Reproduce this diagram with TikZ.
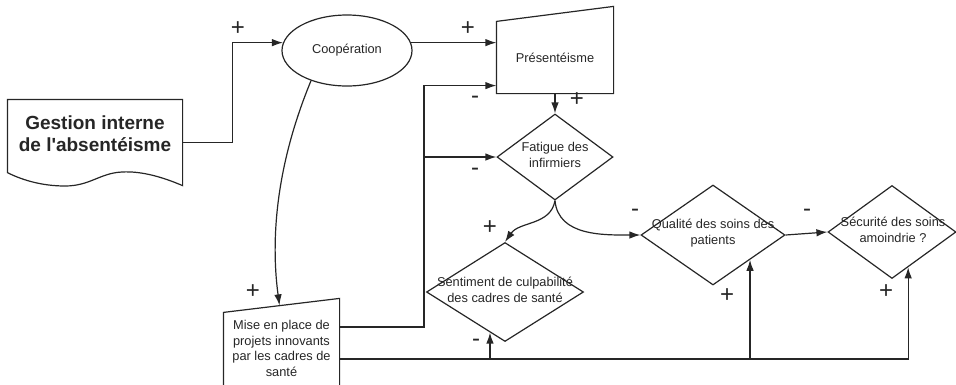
\documentclass[tikz,border=0pt]{standalone}
\usepackage{fontspec}
\setmainfont{Liberation Sans}[Ligatures=TeXOff]
\usetikzlibrary{arrows.meta,shapes.geometric,calc}

\tikzset{
  lbl/.style={font=\fontsize{12.8}{15.5}\selectfont, align=center, inner sep=0pt},
  sgn/.style={font=\fontsize{24}{24}\selectfont, inner sep=0pt},
  diam/.style 2 args={diamond, draw, inner sep=0pt, minimum width=#1, minimum height=#2},
  holder/.style 2 args={inner sep=0pt, minimum width=#1, minimum height=#2},
}

\begin{document}
\begin{tikzpicture}[x=1pt, y=-1pt, color=black!85, line width=1.2pt, >={Latex[length=11pt,width=7.5pt]}]
    \useasboundingbox (0,0) rectangle (956,384);

    % boxes
    \node[holder={174pt}{85pt}] (gestion) at (95,142.5) {};
    \draw (gestion.north west) -- (gestion.north east) -- (gestion.south east)
        .. controls (160,176) and (140,171) .. (122,172)
        .. controls (100,173) and (90,186) .. (65,186)
        .. controls (40,186) and (20,179) .. ([yshift=13pt]gestion.south west) -- cycle;
    \node[lbl, font=\fontsize{19}{22}\selectfont\bfseries] (gestiontxt) at (95,133.5) {Gestion interne\\de l'absentéisme};

    \node[ellipse, draw, lbl, minimum width=130pt, minimum height=71pt] (coop) at (347,50.5) {Coopération};

    \node[lbl, holder={116pt}{71pt}] (pres) at (555,57.5) {Présentéisme};
    \draw (pres.south west) -- (pres.north west) -- ([yshift=15pt]pres.north east) -- (pres.south east) -- cycle;

    \node[lbl, holder={115pt}{71pt}] (mise) at (281.5,348.5) {Mise en place de\\projets innovants\\par les cadres de\\santé};
    \draw ([yshift=-6pt]mise.south west) -- (mise.north west) -- ([yshift=14pt]mise.north east) -- ([yshift=-6pt]mise.south east);

    \node[diam={116pt}{86pt}] (fatigue) at (555,157) {};
    \node[lbl] (fatiguetxt) at (555,155) {Fatigue des\\infirmiers};

    \node[diam={157pt}{99pt}] (senti) at (505,292) {};
    \node[lbl] (sentitxt) at (505,290) {Sentiment de culpabilité\\des cadres de santé};

    \node[diam={144pt}{100pt}] (qual) at (713,235) {};
    \node[lbl] (qualtxt) at (713,233) {Qualité des soins des\\patients};

    \node[diam={128pt}{93pt}] (secu) at (892,232) {};
    \node[lbl] (secutxt) at (893,230) {Sécurité des soins\\amoindrie ?};

    % connectors
    \draw[->] (gestion.east) -- ++(50,0) |- (coop.173);
    \draw[->] (coop.7) -- (coop.7 -| pres.west);
    \draw[->] (coop.220) .. controls (272,175) and (272,250) .. ([xshift=-2pt,yshift=7pt]mise.north);

    \coordinate (jA) at (424,157);
    \draw ([yshift=21.5pt]mise.east) -| (jA);
    \draw[->] (jA) |- ([yshift=8pt]pres.south west);
    \draw[->] (jA) -- (fatigue.west);
    \draw[->] (pres.south) -- (fatigue.north);

    \draw[->] (fatigue.south) to[out=-100, in=55] (senti.north);
    \draw[->] (fatigue.south) to[out=-85, in=180] (qual.west);
    \draw[->] (qual.east) -- (secu.west);

    \coordinate (bus) at ([yshift=-10.5pt]mise.east);
    \coordinate (cin) at ($(senti.south)!0.19!(senti.west)$);
    \coordinate (qin) at ($(qual.south)!0.51!(qual.east)$);
    \coordinate (sin) at ($(secu.south)!0.25!(secu.east)$);
    \draw[->] (bus) -| (sin);
    \draw[->] (bus -| cin) -- (cin);
    \draw[->] (bus -| qin) -- (qin);

    % signs
    \node[sgn] (p1) at (238,29) {+};
    \node[sgn] (p2) at (468,29) {+};
    \node[sgn] (m1) at (475,100) {-};
    \node[sgn] (p3) at (577,100) {+};
    \node[sgn] (m2) at (475,172) {-};
    \node[sgn] (p4) at (490,228) {+};
    \node[sgn] (m3) at (635,213) {-};
    \node[sgn] (m4) at (807,213) {-};
    \node[sgn] (p5) at (253,292) {+};
    \node[sgn] (m5) at (476,343) {-};
    \node[sgn] (p6) at (727,296) {+};
    \node[sgn] (p7) at (886,292) {+};
\end{tikzpicture}
\end{document}
